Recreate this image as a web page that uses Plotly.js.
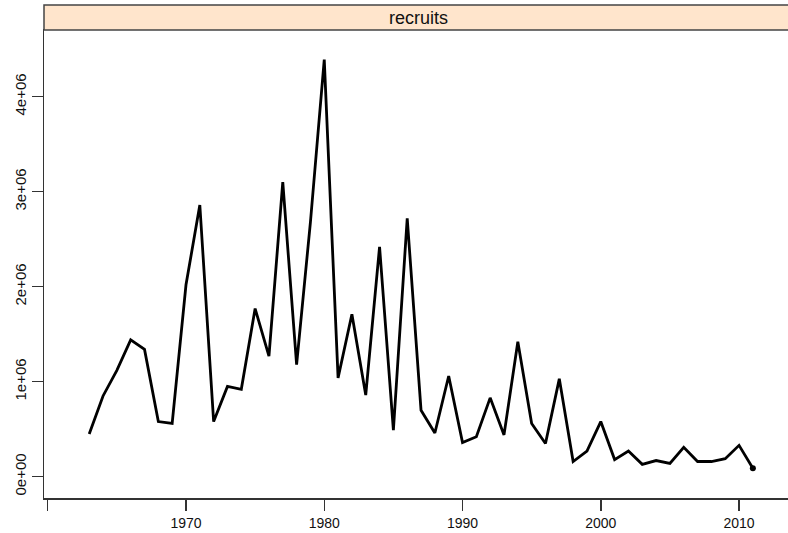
<!DOCTYPE html>
<html>
<head>
<meta charset="utf-8">
<script src="https://cdn.plot.ly/plotly-3.0.1.min.js"></script>
<style>
html, body { margin: 0; padding: 0; background: #fff; overflow: hidden; }
#chart { width: 800px; height: 533px; }
</style>
</head>
<body>
<div id="chart"></div>
<script>
var years = [1963,1964,1965,1966,1967,1968,1969,1970,1971,1972,1973,1974,1975,1976,1977,1978,1979,1980,1981,1982,1983,1984,1985,1986,1987,1988,1989,1990,1991,1992,1993,1994,1995,1996,1997,1998,1999,2000,2001,2002,2003,2004,2005,2006,2007,2008,2009,2010,2011];
var recruits = [450000,850000,1120000,1440000,1340000,580000,560000,2020000,2860000,580000,950000,920000,1770000,1270000,3100000,1180000,2680000,4390000,1040000,1710000,860000,2420000,490000,2720000,700000,460000,1060000,360000,420000,830000,440000,1420000,560000,350000,1030000,160000,270000,580000,180000,270000,130000,170000,140000,310000,160000,160000,190000,330000,90000];
var panelTitle = "recruits";
var xTickVals = [1960,1970,1980,1990,2000,2010];
var xTickText = ["","1970","1980","1990","2000","2010"];
var yTickVals = [0,1000000,2000000,3000000,4000000];
var yTickText = ["0e+00","1e+06","2e+06","3e+06","4e+06"];

var n = years.length;
var traces = [
  {x: years, y: recruits, type: 'scatter', mode: 'lines',
   line: {color: '#000', width: 2.8}, hoverinfo: 'x+y'},
  {x: [years[n-1]], y: [recruits[n-1]], type: 'scatter', mode: 'markers',
   marker: {color: '#000', size: 6}, hoverinfo: 'skip'}
];

var plotH = 468;
var layout = {
  width: 800, height: 533,
  margin: {l: 44, r: 8, t: 30, b: 35},
  paper_bgcolor: '#fff', plot_bgcolor: '#fff',
  showlegend: false,
  font: {family: 'Liberation Sans, Arial, sans-serif', size: 14, color: '#000'},
  xaxis: {
    range: [1959.73, 2013.83],
    tickmode: 'array', tickvals: xTickVals, ticktext: xTickText,
    ticks: 'outside', ticklen: 11, tickwidth: 1.5, tickcolor: '#333',
    ticklabelstandoff: 1,
    showline: true, linecolor: '#333', linewidth: 1.5, mirror: true,
    showgrid: false, zeroline: false,
    tickfont: {size: 14, color: '#111'}
  },
  yaxis: {
    range: [-224200, 4702000],
    tickmode: 'array', tickvals: yTickVals, ticktext: yTickText,
    ticks: 'outside', ticklen: 11, tickwidth: 1.5, tickcolor: '#333',
    tickangle: -90,
    showline: true, linecolor: '#333', linewidth: 1.5, mirror: true,
    showgrid: false, zeroline: false,
    tickfont: {size: 15, color: '#111'}
  },
  shapes: [
    {type: 'rect', xref: 'paper', yref: 'paper', x0: 0, x1: 1,
     y0: 1, y1: 1 + 25 / plotH,
     fillcolor: '#FFE5CC', line: {color: '#444', width: 1.5}, layer: 'above'}
  ],
  annotations: [
    {text: panelTitle, xref: 'paper', yref: 'paper', x: 0.5, y: 1 + 12.5 / plotH,
     xanchor: 'center', yanchor: 'middle', showarrow: false,
     font: {family: 'Liberation Sans, Arial, sans-serif', size: 18, color: '#111'}}
  ]
};

Plotly.newPlot('chart', traces, layout, {displayModeBar: false, staticPlot: true});
</script>
</body>
</html>
